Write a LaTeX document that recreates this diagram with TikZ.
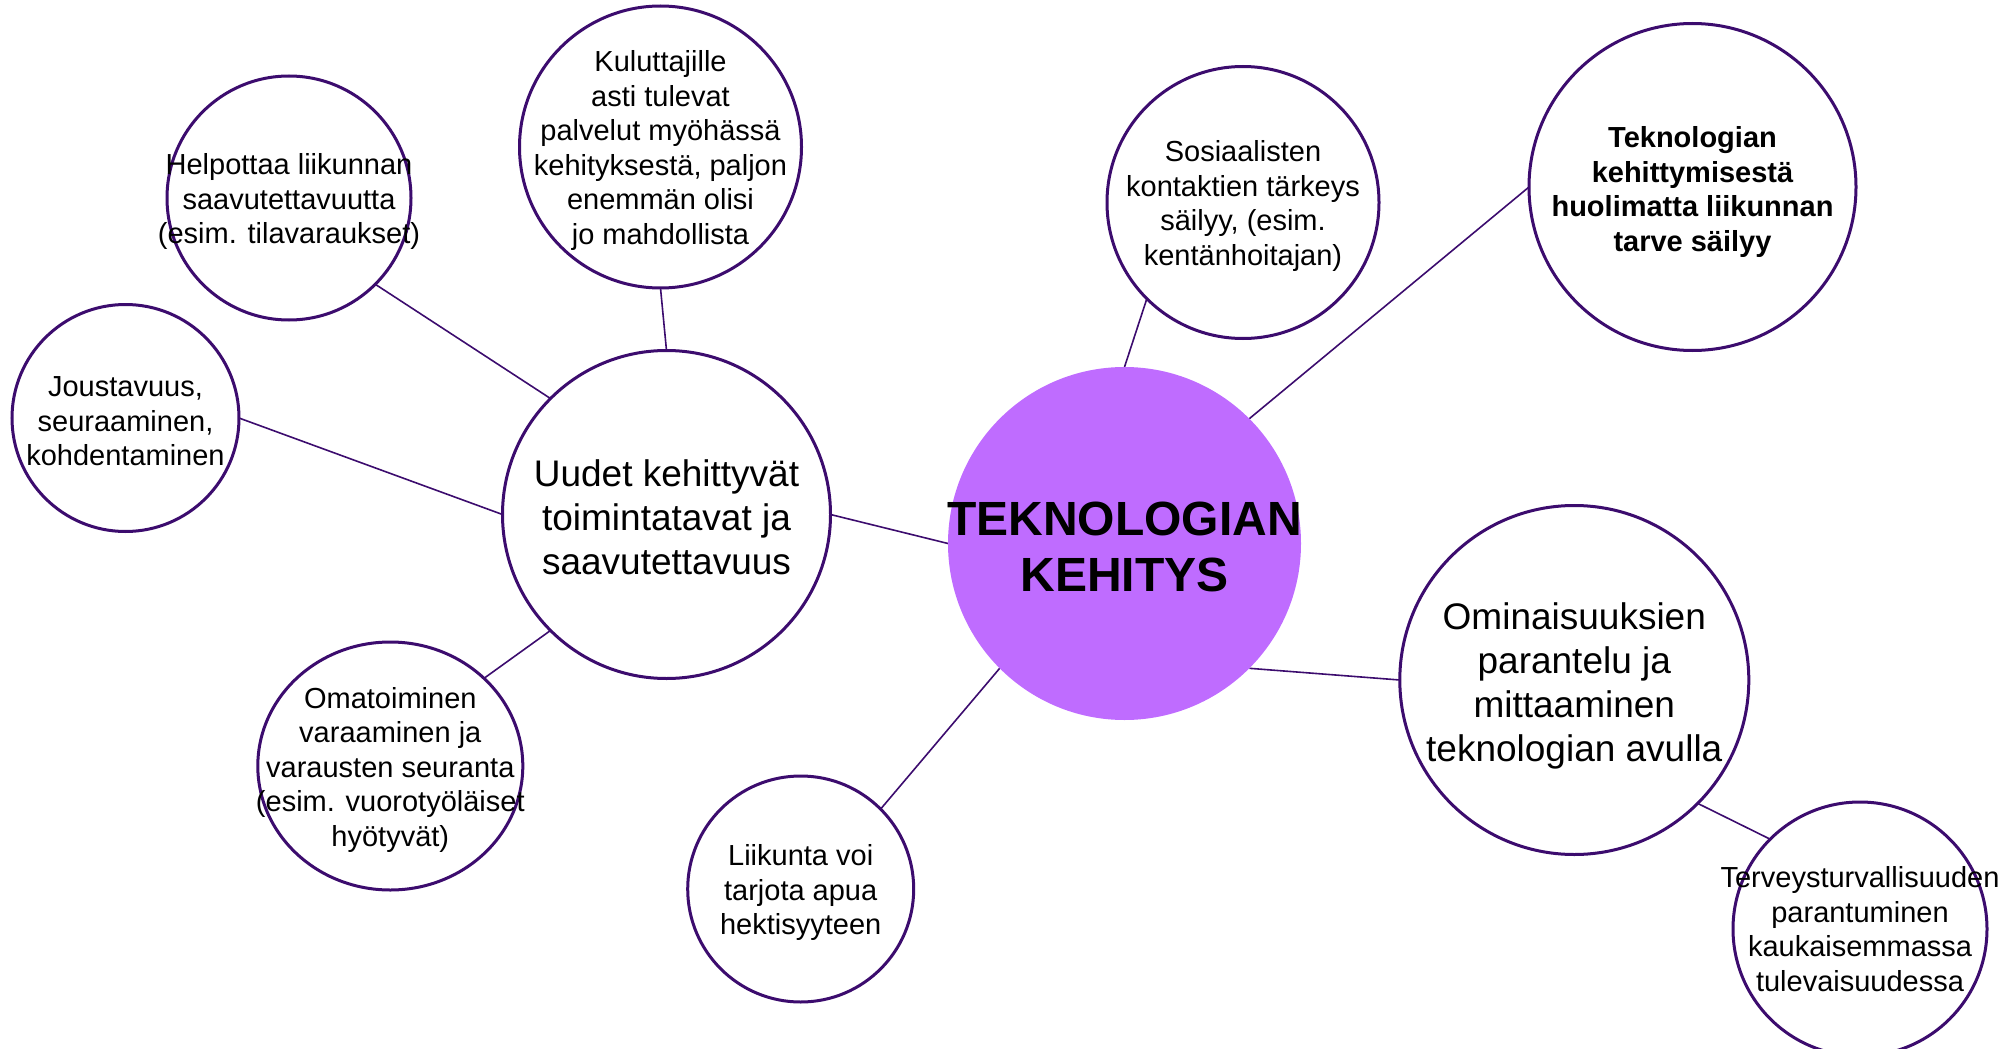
\documentclass[tikz,border=0pt]{standalone}
\usepackage{fontspec}
\setmainfont{Liberation Sans}
\usetikzlibrary{shapes.geometric,backgrounds}
\definecolor{edgepurple}{RGB}{60,12,110}
\definecolor{corepurple}{RGB}{191,108,255}
\begin{document}
\begin{tikzpicture}[x=1pt,y=-1pt,
  bub/.style={circle,draw=edgepurple,line width=3pt,fill=white,inner sep=0pt,outer sep=0pt},
  link/.style={draw=edgepurple,line width=1.6pt},
  small/.style={align=center,font=\fontsize{29}{34.5}\selectfont,inner sep=0pt,yshift=-3.5pt},
  smallbold/.style={align=center,font=\fontsize{29}{34.5}\selectfont\bfseries,inner sep=0pt,yshift=-5pt},
  mid/.style={align=center,font=\fontsize{37}{44}\selectfont,inner sep=0pt,yshift=-3pt},
  big/.style={align=center,font=\fontsize{48}{56}\selectfont\bfseries,inner sep=0pt,yshift=-3pt}]
\useasboundingbox (0,0) rectangle (2006,1049);

% circles
\node[circle,fill=corepurple,minimum size=353pt,inner sep=0pt,outer sep=0pt] (core) at (1124.5,543.5) {};
\node[bub,minimum size=328pt] (uud) at (666.5,514.5) {};
\node[bub,minimum size=282pt] (kul) at (660.5,147) {};
\node[bub,minimum size=244pt] (hel) at (289,198) {};
\node[bub,minimum size=227pt] (jou) at (125.5,418) {};
\node[bub,ellipse,minimum width=265pt,minimum height=248pt] (oma) at (390.3,766) {};
\node[bub,minimum size=226pt] (lii) at (800.7,889) {};
\node[bub,minimum size=272pt] (sos) at (1243,202.5) {};
\node[bub,minimum size=327pt] (tek) at (1692.5,187) {};
\node[bub,minimum size=349pt] (omi) at (1574.3,680) {};
\node[bub,minimum size=254pt] (ter) at (1860,929) {};

% connectors
\begin{scope}[on background layer]
\draw[link] (core.west) -- (uud.east);
\draw[link] (uud.north) -- (kul.south);
\draw[link] (uud.north west) -- (hel.south east);
\draw[link] (uud.west) -- (jou.east);
\draw[link] (uud.south west) -- (oma.north east);
\draw[link] (core.south west) -- (lii.north east);
\draw[link] (core.north) -- (sos.south west);
\draw[link] (core.north east) -- (tek.west);
\draw[link] (core.south east) -- (omi.west);
\draw[link] (omi.south east) -- (ter.north west);
\end{scope}

% texts
\node[big] (core-t) at (core) {TEKNOLOGIAN\\KEHITYS};
\node[mid] (uud-t) at (uud) {Uudet kehittyvät\\toimintatavat ja\\saavutettavuus};
\node[small] (kul-t) at (kul) {Kuluttajille\\asti tulevat\\palvelut myöhässä\\kehityksestä, paljon\\enemmän olisi\\jo mahdollista};
\node[small] (hel-t) at (hel) {Helpottaa liikunnan\\saavutettavuutta\\(esim. tilavaraukset)};
\node[small] (jou-t) at (jou) {Joustavuus,\\seuraaminen,\\kohdentaminen};
\node[small] (oma-t) at (oma) {Omatoiminen\\varaaminen ja\\varausten seuranta\\(esim. vuorotyöläiset\\hyötyvät)};
\node[small] (lii-t) at (lii) {Liikunta voi\\tarjota apua\\hektisyyteen};
\node[small] (sos-t) at (sos) {Sosiaalisten\\kontaktien tärkeys\\säilyy, (esim.\\kentänhoitajan)};
\node[smallbold] (tek-t) at (tek) {Teknologian\\kehittymisestä\\huolimatta liikunnan\\tarve säilyy};
\node[mid,yshift=-3pt] (omi-t) at (omi) {Ominaisuuksien\\parantelu ja\\mittaaminen\\teknologian avulla};
\node[small,yshift=3.5pt] (ter-t) at (ter) {Terveysturvallisuuden\\parantuminen\\kaukaisemmassa\\tulevaisuudessa};
\end{tikzpicture}
\end{document}
